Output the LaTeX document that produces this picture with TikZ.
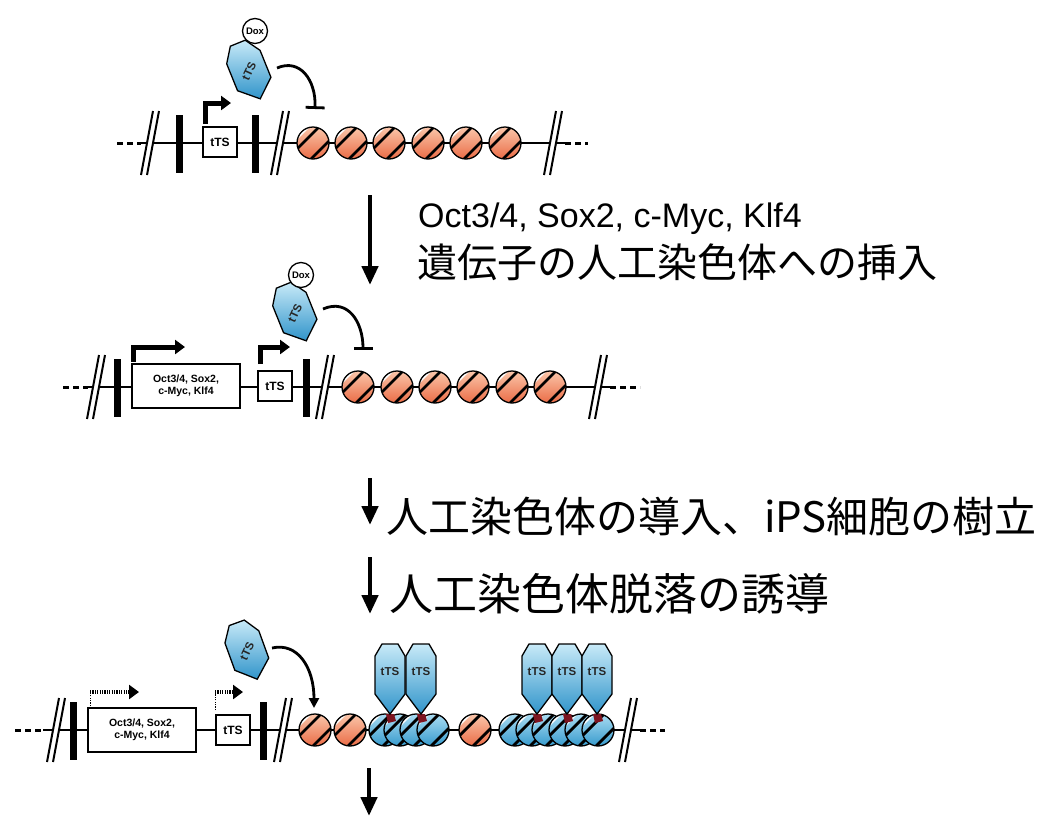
\documentclass[tikz,border=0pt]{standalone}
\usepackage{fontspec}
\setmainfont{Liberation Sans}
\newfontfamily\jpfont{Noto Sans CJK JP}
\usepackage{tikz}
\usetikzlibrary{arrows.meta,calc}
\definecolor{nucorange}{RGB}{234,108,70}
\definecolor{nucpeach}{RGB}{250,198,170}
\definecolor{nucblue}{RGB}{55,155,205}
\definecolor{nucsky}{RGB}{170,220,242}
\definecolor{ttsblue}{RGB}{48,148,202}
\definecolor{ttslight}{RGB}{200,234,248}
\definecolor{bindred}{RGB}{125,20,32}
% shaded histone disc with the wrapped strands
\newcommand{\nucbody}[2]{%
  \fill[top color=#1, bottom color=#2] (0,0) circle (16pt);
  \begin{scope}
    \clip (0,0) circle (16pt);
    \draw[white, line width=4pt] (-31,9) -- (9,-31);
    \draw[line width=2.8pt] (-25,15) -- (15,-25);
    \draw[line width=2.8pt] (-13,27) -- (27,-13);
  \end{scope}
  \draw[line width=1.3pt] (0,0) circle (16pt);}

\begin{document}
\begin{tikzpicture}[
    x=1pt, y=-1pt,
    dna/.style={line width=2.8pt},
    loose/.style={line width=3pt, dash pattern=on 6pt off 4pt},
    genebox/.style={rectangle, draw, line width=2pt, fill=white, inner sep=0pt, minimum width=34pt, minimum height=30pt, align=center, font=\bfseries\fontsize{12}{12}\selectfont},
    bigbox/.style={genebox, minimum width=108pt, minimum height=44pt, font=\bfseries\fontsize{10.5}{12.5}\selectfont},
    bar/.style={rectangle, fill=black, inner sep=0pt, minimum width=7pt, minimum height=58pt},
    dox/.style={circle, draw, line width=1.3pt, fill=white, inner sep=0pt, minimum size=25pt, font=\bfseries\fontsize{9.5}{9.5}\selectfont},
    ttstext/.style={inner sep=0pt, text=black!85, font=\bfseries\fontsize{11.5}{11.5}\selectfont},
    promoter/.style={line width=5pt, -{Triangle[length=10pt,width=14pt]}},
    weakpromoter/.style={line width=4.5pt, dash pattern=on 1.2pt off 1.2pt, -{Triangle[length=10pt,width=14pt]}},
    repress/.style={line width=2.8pt, -{Bar[width=19pt,line width=2.8pt]}},
    bindarrow/.style={line width=2.8pt, -{Triangle[length=10pt,width=10pt]}},
    bigarrow/.style={line width=4.5pt, -{Triangle[length=19pt,width=16pt]}},
    steptext/.style={anchor=base west, inner sep=0pt},
    orangenuc/.pic={\nucbody{nucpeach}{nucorange}},
    bluenuc/.pic={\nucbody{nucsky}{nucblue}},
    bind/.pic={\fill[bindred] (-4,-16) -- (4,-16) -- (6,-9) -- (-2,-7) -- cycle;},
    cut/.pic={\fill[white] (-9,32) -- (3,-32) -- (9,-32) -- (-3,32) -- cycle;
              \draw[line width=2pt] (-9,32) -- (3,-32) (-3,32) -- (9,-32);},
    boundtts/.pic={\draw[line width=1.3pt, top color=ttslight, bottom color=ttsblue]
                     (0,0) -- (-15,-20) -- (-15,-58) -- (-8,-70) -- (8,-70) -- (15,-58) -- (15,-20) -- cycle;
                   \node[ttstext] (-lbl) at (0,-42) {tTS};},
    freetts/.pic={\draw[line width=1.3pt, top color=ttslight, bottom color=ttsblue]
                    (-8,-30) -- (8,-30) -- (18,-15) -- (18,14) -- (0,30) -- (-18,14) -- (-18,-15) -- cycle;
                  \node[ttstext, rotate=65] (-lbl) {tTS};},
]
\useasboundingbox (0,0) rectangle (1048,822);

% Row 1: tTS cassette, silenced array
\coordinate (r1w) at (117,143);
\coordinate (r1a) at (141,143);
\coordinate (r1b) at (565,143);
\coordinate (r1e) at (588,143);
\draw[loose] (r1w) -- (r1a);
\draw[loose] (r1b) -- (r1e);
\draw[dna] (r1a) -- (r1b);
\foreach \x in {313,351,389,428,466,505} \pic at (\x,143) {orangenuc};
\pic at (150,143) {cut};
\pic at (280,143) {cut};
\pic at (553,143) {cut};
\node[bar] (bar1a) at (179,144) {};
\node[bar] (bar1b) at (255,144) {};
\node[genebox] (tts1) at (220,142) {tTS};
\draw[promoter] (205,124) |- (231,103);
\pic[rotate=22] (ft1) at (249,71) {freetts};
\node[dox] (dox1) at (255,31) {Dox};
\coordinate (rep1s) at (277,68);
\coordinate (rep1e) at (315,109);
\draw[repress] (rep1s) .. controls (300,58) and (316,80) .. (rep1e);

% Step 1
\coordinate (a1s) at (370,195);
\coordinate (a1e) at (370,285);
\draw[bigarrow] (a1s) -- (a1e);
\node[steptext, font=\fontsize{34}{40}\selectfont] (step1a) at (418,227) {Oct3/4, Sox2, c-Myc, Klf4};
\node[steptext, font=\jpfont\fontsize{40}{46}\selectfont] (step1b) at (417,277) {遺伝子の人工染色体への挿入};

% Row 2: reprogramming factors inserted
\coordinate (r2w) at (63,387);
\coordinate (r2a) at (88,387);
\coordinate (r2b) at (610,387);
\coordinate (r2e) at (640,387);
\draw[loose] (r2w) -- (r2a);
\draw[loose] (r2b) -- (r2e);
\draw[dna] (r2a) -- (r2b);
\foreach \x in {358,397,435,473,512,550} \pic at (\x,387) {orangenuc};
\pic at (96,387) {cut};
\pic at (325,387) {cut};
\pic at (598,387) {cut};
\node[bar] (bar2a) at (117,388) {};
\node[bar] (bar2b) at (306,388) {};
\node[bigbox] (osck2) at (186,386) {Oct3/4, Sox2,\\c-Myc, Klf4};
\node[genebox] (tts2) at (275,386) {tTS};
\draw[promoter] (133,362) |- (185,347);
\draw[promoter] (260,364) |- (290,347);
\pic[rotate=22] (ft2) at (295,313) {freetts};
\node[dox] (dox2) at (301,275) {Dox};
\coordinate (rep2s) at (323,309);
\coordinate (rep2e) at (363,350);
\draw[repress] (rep2s) .. controls (348,298) and (363,322) .. (rep2e);

% Steps 2 and 3
\coordinate (a2s) at (370,478);
\coordinate (a2e) at (370,525);
\draw[bigarrow] (a2s) -- (a2e);
\node[steptext, font=\jpfont\fontsize{42}{48}\selectfont] (step2) at (386,532) {人工染色体の導入、iPS細胞の樹立};
\coordinate (a3s) at (370,557);
\coordinate (a3e) at (370,614);
\draw[bigarrow] (a3s) -- (a3e);
\node[steptext, font=\jpfont\fontsize{44}{50}\selectfont] (step3) at (389,610) {人工染色体脱落の誘導};

% Row 4: tTS released, array loses its repression
\coordinate (r4w) at (15,730);
\coordinate (r4a) at (43,730);
\coordinate (r4b) at (640,730);
\coordinate (r4e) at (665,730);
\draw[loose] (r4w) -- (r4a);
\draw[loose] (r4b) -- (r4e);
\draw[dna] (r4a) -- (r4b);
\foreach \x in {315,350,475} \pic at (\x,730) {orangenuc};
\foreach \x in {385,400,416,433} \pic at (\x,730) {bluenuc};
\foreach \x in {515,532,548,565,581,598} \pic at (\x,730) {bluenuc};
\foreach \x in {390,421,537,567,597} \pic at (\x,730) {bind};
\pic at (56,730) {cut};
\pic at (283,730) {cut};
\pic at (628,730) {cut};
\node[bar] (bar4a) at (73,731) {};
\node[bar] (bar4b) at (263,731) {};
\node[bigbox] (osck4) at (142,730) {Oct3/4, Sox2,\\c-Myc, Klf4};
\node[genebox] (tts4) at (233,730) {tTS};
\draw[line width=1pt, dash pattern=on 1.2pt off 1.2pt] (90,706) -- (90,692);
\draw[weakpromoter] (90,692) -- (139,692);
\draw[line width=1pt, dash pattern=on 1.2pt off 1.2pt] (215,710) -- (215,692);
\draw[weakpromoter] (215,692) -- (243,692);
\foreach \x in {390,421,537,567,597} \pic at (\x,714) {boundtts};
\pic[rotate=20] (ft4) at (247,651) {freetts};
\coordinate (b4s) at (272,648);
\coordinate (b4e) at (314,708);
\draw[bindarrow] (b4s) .. controls (298,642) and (314,668) .. (b4e);

% Step 4
\coordinate (a4s) at (369,768);
\coordinate (a4e) at (369,816);
\draw[bigarrow] (a4s) -- (a4e);
\end{tikzpicture}
\end{document}
